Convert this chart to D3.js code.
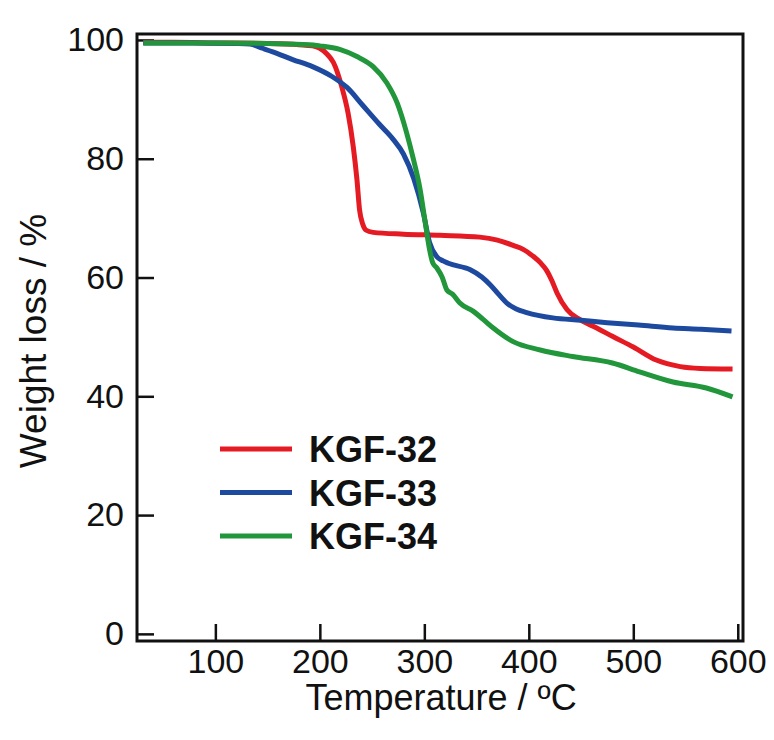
<!DOCTYPE html>
<html>
<head>
<meta charset="utf-8">
<script src="https://cdn.jsdelivr.net/npm/d3@7"></script>
<style>
  body { margin: 0; background: #fff; }
  text { font-family: "Liberation Sans", Arial, sans-serif; fill: #111; }
</style>
</head>
<body>
<div id="chart"></div>
<script>
// TGA curves, [temperature °C, weight %]
const kgf32 = [
  [31, 99.6], [60, 99.6], [100, 99.5], [150, 99.4], [180, 99.2], [193, 99.0], [200, 98.6],
  [207, 97.6], [213, 96.2], [221, 92.1], [227, 87.7], [232, 82.0], [235.5, 76.5], [238, 71.4],
  [241, 69.0], [244, 68.0], [251, 67.6], [280, 67.3], [315, 67.1], [353, 66.8], [370, 66.3],
  [385, 65.4], [395, 64.7], [404, 63.6], [411, 62.5], [417, 61.2], [422, 59.5], [427, 57.4],
  [436.5, 54.6], [449, 52.9], [465, 51.5], [480, 50.1], [500, 48.3], [522, 46.1], [545, 45.0],
  [564, 44.7], [595, 44.6]
];
const kgf33 = [
  [31, 99.5], [80, 99.5], [120, 99.4], [133, 99.3], [145, 98.6], [155, 98.0], [174, 96.7],
  [193, 95.5], [212, 93.8], [226, 92.0], [241, 89.0], [257, 85.8], [270, 83.3], [280, 80.8],
  [290, 76.6], [299, 70.9], [305, 65.9], [312, 63.5], [318, 62.8], [323, 62.4], [344, 61.3],
  [355, 60.1], [363, 58.8], [371, 57.2], [379, 55.7], [388, 54.7], [398, 54.1], [423, 53.2],
  [450, 52.8], [475, 52.4], [505, 52.0], [538, 51.5], [565, 51.3], [594, 51.0]
];
const kgf34 = [
  [31, 99.5], [100, 99.5], [150, 99.4], [190, 99.2], [200, 99.0], [219, 98.4], [235.5, 97.2],
  [251, 95.5], [264, 92.8], [274, 89.4], [283, 84.4], [289, 80.3], [296, 74.8], [300.5, 69.7],
  [305, 64.7], [308, 62.5], [312, 61.6], [317, 60.1], [321.6, 57.9], [327, 57.2], [334, 55.7],
  [347, 54.3], [356, 53.0], [366, 51.5], [385, 49.2], [411, 47.8], [442, 46.7], [480, 45.6],
  [506, 44.1], [538, 42.4], [570, 41.4], [595, 39.9]
];

const seriesNames = ["KGF-32", "KGF-33", "KGF-34"];
const seriesColors = ["#e51b23", "#1d4a9f", "#22963b"];
const xTicks = [100, 200, 300, 400, 500, 600];
const yTicks = [0, 20, 40, 60, 80, 100];

const w = 774;
const h = 740;
const plot = {left: 137, right: 743, top: 34, bottom: 641};

let svg = d3.select("#chart")
  .append("svg")
    .attr("width", w)
    .attr("height", h);

let x = d3.scaleLinear()
  .domain([25, 605])
  .range([plot.left, plot.right]);

let y = d3.scaleLinear()
  .domain([-1.2, 101])
  .range([plot.bottom, plot.top]);

// axes, ticks point inward
let xAxis = svg.append("g")
  .attr("transform", "translate(0," + plot.bottom + ")")
  .call(d3.axisBottom(x).tickValues(xTicks).tickSize(-17).tickPadding(8));

let yAxis = svg.append("g")
  .attr("transform", "translate(" + plot.left + ",0)")
  .call(d3.axisLeft(y).tickValues(yTicks).tickSize(-17).tickPadding(13));

[xAxis, yAxis].forEach(a => {
  a.select(".domain").remove();
  a.selectAll(".tick line").attr("stroke", "#111").attr("stroke-width", 2.5);
  a.selectAll(".tick text").attr("font-size", 34).attr("fill", "#111")
    .style("font-family", "'Liberation Sans', Arial, sans-serif");
});

// curves
let line = d3.line()
  .x(d => x(d[0]))
  .y(d => y(d[1]))
  .curve(d3.curveMonotoneX);

[kgf32, kgf33, kgf34].forEach((data, i) => {
  svg.append("path")
    .datum(data)
    .attr("fill", "none")
    .attr("stroke", seriesColors[i])
    .attr("stroke-width", 5)
    .attr("stroke-linejoin", "round")
    .attr("d", line);
});

// frame
svg.append("rect")
  .attr("x", plot.left)
  .attr("y", plot.top)
  .attr("width", plot.right - plot.left)
  .attr("height", plot.bottom - plot.top)
  .attr("fill", "none")
  .attr("stroke", "#111")
  .attr("stroke-width", 3);

// axis titles
svg.append("text")
  .attr("x", (plot.left + plot.right) / 2 + 1)
  .attr("y", 710)
  .attr("text-anchor", "middle")
  .attr("font-size", 36)
  .text("Temperature / ºC");

svg.append("text")
  .attr("transform", "translate(46," + 341 + ") rotate(-90)")
  .attr("text-anchor", "middle")
  .attr("font-size", 37)
  .text("Weight loss / %");

// legend
let legend = svg.append("g");
seriesNames.forEach((name, i) => {
  let ly = 449 + i * 43.5;
  legend.append("line")
    .attr("x1", 220).attr("x2", 292)
    .attr("y1", ly).attr("y2", ly)
    .attr("stroke", seriesColors[i])
    .attr("stroke-width", 5);
  legend.append("text")
    .attr("x", 309)
    .attr("y", ly + 13)
    .attr("font-size", 36)
    .attr("font-weight", "bold")
    .text(name);
});
</script>
</body>
</html>
